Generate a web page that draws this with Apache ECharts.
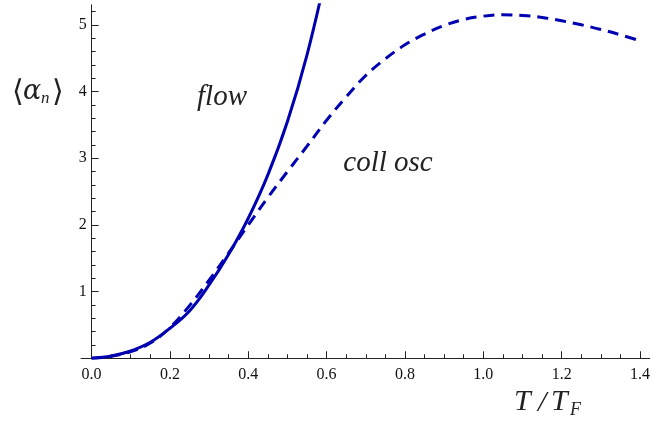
<!DOCTYPE html>
<html>
<head>
<meta charset="utf-8">
<script src="https://cdn.jsdelivr.net/npm/echarts@6/dist/echarts.min.js"></script>
<style>
html,body{margin:0;padding:0;background:#fff;}
#chart{width:653px;height:423px;}
</style>
</head>
<body>
<div id="chart"></div>
<script>
// ---- data ----
const flowX = [0, 0.05, 0.1, 0.15, 0.2, 0.25, 0.3, 0.35, 0.4, 0.45, 0.5, 0.55, 0.6];
const flowY = [0, 0.035, 0.11, 0.24, 0.45, 0.71, 1.10, 1.56, 2.10, 2.75, 3.55, 4.55, 5.80];

const collX = [0, 0.05, 0.1, 0.15, 0.2, 0.25, 0.3, 0.35, 0.4, 0.45, 0.5, 0.55, 0.6, 0.65, 0.7, 0.75, 0.8, 0.85, 0.9, 0.95, 1.0, 1.05, 1.1, 1.15, 1.2, 1.25, 1.3, 1.35, 1.4];
const collY = [0, 0.03, 0.10, 0.23, 0.46, 0.79, 1.17, 1.58, 2.00, 2.41, 2.80, 3.18, 3.57, 3.92, 4.24, 4.49, 4.70, 4.86, 4.99, 5.08, 5.13, 5.15, 5.14, 5.11, 5.06, 5.00, 4.93, 4.85, 4.76];

const xMajorTicks = [0, 0.2, 0.4, 0.6, 0.8, 1.0, 1.2, 1.4];
const xMinorTicks = [0.05, 0.1, 0.15, 0.25, 0.3, 0.35, 0.45, 0.5, 0.55, 0.65, 0.7, 0.75, 0.85, 0.9, 0.95, 1.05, 1.1, 1.15, 1.25, 1.3, 1.35];
const yMajorTicks = [1, 2, 3, 4, 5];
const yMinorTicks = [0.2, 0.4, 0.6, 0.8, 1.2, 1.4, 1.6, 1.8, 2.2, 2.4, 2.6, 2.8, 3.2, 3.4, 3.6, 3.8, 4.2, 4.4, 4.6, 4.8, 5.2];

const X_MIN = -0.027, X_MAX = 1.425, Y_MIN = 0, Y_MAX = 5.3;
const GRID_LEFT = 81, GRID_RIGHT = 0;
const BLUE = '#0000b0';
const AXIS = '#222';
const TEXT = '#222';
const SERIF = '"Liberation Serif", "DejaVu Serif", serif';
const GREEK = '"DejaVu Serif", "Liberation Serif", serif';

const pairs = (xs, ys) => xs.map((x, i) => [x, ys[i]]);

const chart = echarts.init(document.getElementById('chart'), null, {renderer: 'canvas'});
// pixel offset that puts the y axes on x = 0 of the x scale
const gridW = 653 - GRID_LEFT - GRID_RIGHT;
const yZeroOffset = -(0 - X_MIN) / (X_MAX - X_MIN) * gridW;

const baseX = {
  type: 'value', min: X_MIN, max: X_MAX, position: 'bottom',
  splitLine: {show: false}
};
const baseY = {
  type: 'value', min: Y_MIN, max: Y_MAX, position: 'left', offset: yZeroOffset,
  splitLine: {show: false}
};

chart.setOption({
  backgroundColor: '#fff',
  animation: false,
  grid: {left: GRID_LEFT, right: GRID_RIGHT, top: 4.8, bottom: 64.7, containLabel: false},
  xAxis: [
    Object.assign({}, baseX, {
      axisLine: {show: true, onZero: false, lineStyle: {color: AXIS, width: 1}},
      axisTick: {show: true, inside: true, length: 4, customValues: xMinorTicks, lineStyle: {color: AXIS}},
      axisLabel: {show: false}
    }),
    Object.assign({}, baseX, {
      axisLine: {show: false, onZero: false},
      axisTick: {show: true, inside: true, length: 7, customValues: xMajorTicks, lineStyle: {color: AXIS}},
      axisLabel: {show: true, customValues: xMajorTicks, margin: 8,
        formatter: v => Number(v).toFixed(1),
        color: '#111', fontFamily: SERIF, fontSize: 16}
    })
  ],
  yAxis: [
    Object.assign({}, baseY, {
      axisLine: {show: true, onZero: false, lineStyle: {color: AXIS, width: 1}},
      axisTick: {show: true, inside: true, length: 7, customValues: yMajorTicks, lineStyle: {color: AXIS}},
      axisLabel: {show: true, customValues: yMajorTicks, margin: 5,
        formatter: v => String(v),
        color: '#111', fontFamily: SERIF, fontSize: 16}
    }),
    Object.assign({}, baseY, {
      axisLine: {show: false, onZero: false},
      axisTick: {show: true, inside: true, length: 4, customValues: yMinorTicks, lineStyle: {color: AXIS}},
      axisLabel: {show: false}
    })
  ],
  series: [
    {
      name: 'flow', type: 'line', xAxisIndex: 0, yAxisIndex: 0,
      data: pairs(flowX, flowY), showSymbol: false, symbol: 'none',
      smooth: 0.4, clip: true,
      lineStyle: {color: BLUE, width: 3}
    },
    {
      name: 'coll osc', type: 'line', xAxisIndex: 0, yAxisIndex: 0,
      data: pairs(collX, collY), showSymbol: false, symbol: 'none',
      smooth: 0.4, clip: true,
      lineStyle: {color: BLUE, width: 3, type: [11, 7]}
    }
  ],
  graphic: [
    {type: 'text', x: 222, y: 97, style: {text: 'flow', fontFamily: SERIF, fontStyle: 'italic', fontSize: 29, fill: TEXT, align: 'center', verticalAlign: 'middle'}},
    {type: 'text', x: 388, y: 163, style: {text: 'coll osc', fontFamily: SERIF, fontStyle: 'italic', fontSize: 29, fill: TEXT, align: 'center', verticalAlign: 'middle'}},
    // <alpha_n>
    {type: 'text', x: 12, y: 93, style: {text: '\u27E8', fontFamily: GREEK, fontSize: 30, fill: TEXT, align: 'left', verticalAlign: 'middle'}},
    {type: 'text', x: 23, y: 92, style: {text: '\u03B1', fontFamily: GREEK, fontStyle: 'italic', fontSize: 27, fill: TEXT, align: 'left', verticalAlign: 'middle'}},
    {type: 'text', x: 41, y: 99, style: {text: 'n', fontFamily: SERIF, fontStyle: 'italic', fontSize: 17, fill: TEXT, align: 'left', verticalAlign: 'middle'}},
    {type: 'text', x: 52, y: 93, style: {text: '\u27E9', fontFamily: GREEK, fontSize: 30, fill: TEXT, align: 'left', verticalAlign: 'middle'}},
    // T/T_F
    {type: 'text', x: 514, y: 402, style: {text: 'T', fontFamily: SERIF, fontStyle: 'italic', fontSize: 30, fill: TEXT, align: 'left', verticalAlign: 'middle'}},
    {type: 'text', x: 538, y: 403, style: {text: '/', fontFamily: SERIF, fontStyle: 'italic', fontSize: 30, fill: TEXT, align: 'left', verticalAlign: 'middle'}},
    {type: 'text', x: 551, y: 402, style: {text: 'T', fontFamily: SERIF, fontStyle: 'italic', fontSize: 30, fill: TEXT, align: 'left', verticalAlign: 'middle'}},
    {type: 'text', x: 570, y: 410, style: {text: 'F', fontFamily: SERIF, fontStyle: 'italic', fontSize: 18, fill: TEXT, align: 'left', verticalAlign: 'middle'}}
  ]
});
</script>
</body>
</html>
